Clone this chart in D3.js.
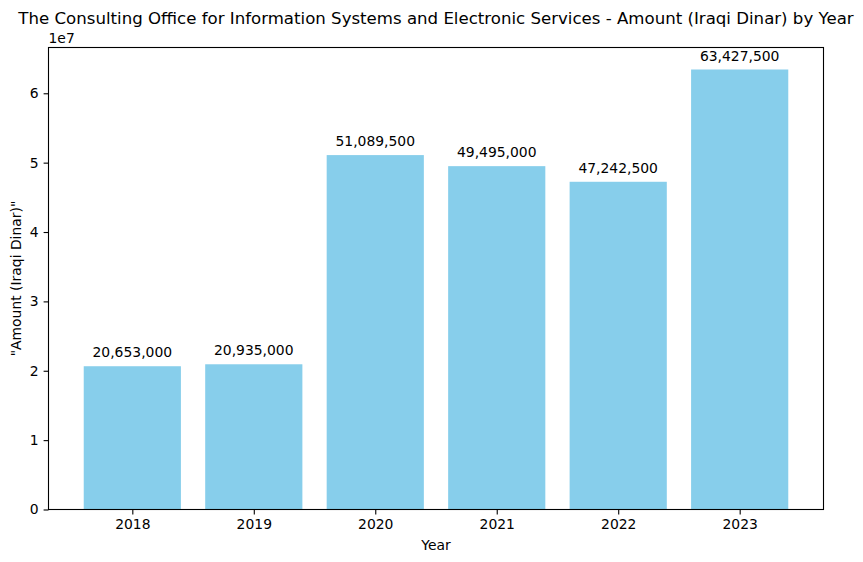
<!DOCTYPE html>
<html>
<head>
<meta charset="utf-8">
<script src="https://cdn.jsdelivr.net/npm/d3@7"></script>
<style>
body { margin: 0; background: #fff; }
text { font-family: "DejaVu Sans", sans-serif; fill: #000; }
</style>
</head>
<body>
<svg id="chart" width="863" height="562"></svg>
<script>
const years = ["2018", "2019", "2020", "2021", "2022", "2023"];
const amounts = [20653000, 20935000, 51089500, 49495000, 47242500, 63427500];
const yTicks = [0, 1, 2, 3, 4, 5, 6];
const titleText = "The Consulting Office for Information Systems and Electronic Services - Amount (Iraqi Dinar) by Year";

const svg = d3.select("#chart");
const L = 48.5, R = 823.5, T = 47.5, B = 509.5;
const FS = "13.9px";

const idx = years.map((d, i) => i);
const x = d3.scaleLinear().domain([-0.69, 5.69]).range([L, R]);
const y = d3.scaleLinear().domain([0, d3.max(amounts) * 1.05]).range([B, T]);
const barW = x(0.8) - x(0);

svg.append("g").selectAll("rect").data(amounts).join("rect")
  .attr("x", (d, i) => x(i - 0.4))
  .attr("y", d => y(d))
  .attr("width", barW)
  .attr("height", d => B - y(d))
  .attr("fill", "#87ceeb");

const fmt = d3.format(",");
svg.append("g").selectAll("text").data(amounts).join("text")
  .attr("x", (d, i) => x(i))
  .attr("y", d => y(d) - 9)
  .attr("text-anchor", "middle")
  .attr("font-size", FS)
  .text(d => fmt(d));

// axes
const xAxis = d3.axisBottom(x).tickValues(idx).tickFormat(i => years[i]).tickSize(4.9).tickPadding(4.9);
const gx = svg.append("g").attr("transform", `translate(0,${B})`).call(xAxis);
const yAxis = d3.axisLeft(y).tickValues(yTicks.map(v => v * 1e7)).tickFormat(v => String(Math.round(v / 1e7))).tickSize(4.9).tickPadding(4.9);
const gy = svg.append("g").attr("transform", `translate(${L},0)`).call(yAxis);
[gx, gy].forEach(g => {
  g.select(".domain").remove();
  g.selectAll(".tick line").attr("stroke", "#000").attr("stroke-width", 1.1);
  g.selectAll(".tick text").attr("font-size", FS).attr("font-family", "DejaVu Sans, sans-serif");
});

// frame
svg.append("rect").attr("x", L).attr("y", T).attr("width", R - L).attr("height", B - T)
  .attr("fill", "none").attr("stroke", "#000").attr("stroke-width", 1.1);

svg.append("text").attr("x", L).attr("y", 43).attr("font-size", FS).text("1e7");

svg.append("text").attr("x", (L + R) / 2).attr("y", 24).attr("text-anchor", "middle")
  .attr("font-size", "16.6px").text(titleText);

svg.append("text").attr("x", (L + R) / 2).attr("y", 550).attr("text-anchor", "middle")
  .attr("font-size", FS).text("Year");

svg.append("text").attr("transform", `translate(21,${(T + B) / 2}) rotate(-90)`).attr("text-anchor", "middle")
  .attr("font-size", FS).text("\"Amount (Iraqi Dinar)\"");
</script>
</body>
</html>
